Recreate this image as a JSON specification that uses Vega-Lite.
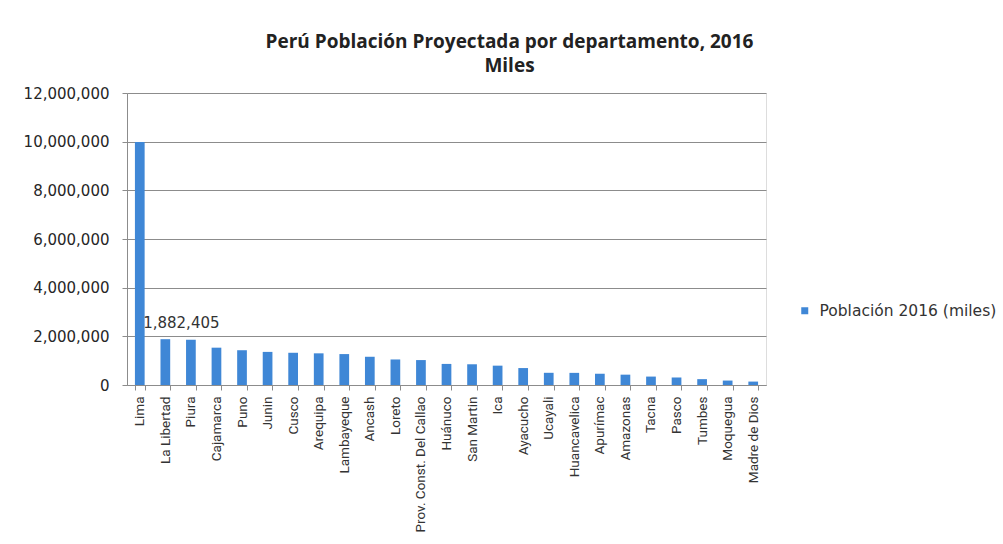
{
  "$schema": "https://vega.github.io/schema/vega-lite/v6.json",
  "autosize": {"type": "none"},
  "width": 639,
  "height": 292,
  "padding": {"left": 127, "top": 93, "right": 237, "bottom": 159},
  "background": "white",
  "title": {
    "text": ["Perú Población Proyectada por departamento, 2016", "Miles"],
    "anchor": "middle",
    "dx": 63,
    "offset": 10,
    "font": "Open Sans",
    "fontSize": 19,
    "fontWeight": "bold",
    "color": "#222222",
    "lineHeight": 24
  },
  "data": {
    "values": [
      {"dep": "Lima", "pob": 9985664, "serie": "Población 2016 (miles)"},
      {"dep": "La Libertad", "pob": 1882405, "serie": "Población 2016 (miles)"},
      {"dep": "Piura", "pob": 1858617, "serie": "Población 2016 (miles)"},
      {"dep": "Cajamarca", "pob": 1533783, "serie": "Población 2016 (miles)"},
      {"dep": "Puno", "pob": 1429098, "serie": "Población 2016 (miles)"},
      {"dep": "Junin", "pob": 1360506, "serie": "Población 2016 (miles)"},
      {"dep": "Cusco", "pob": 1324371, "serie": "Población 2016 (miles)"},
      {"dep": "Arequipa", "pob": 1301298, "serie": "Población 2016 (miles)"},
      {"dep": "Lambayeque", "pob": 1270794, "serie": "Población 2016 (miles)"},
      {"dep": "Ancash", "pob": 1160490, "serie": "Población 2016 (miles)"},
      {"dep": "Loreto", "pob": 1049364, "serie": "Población 2016 (miles)"},
      {"dep": "Prov. Const. Del Callao", "pob": 1024439, "serie": "Población 2016 (miles)"},
      {"dep": "Huánuco", "pob": 866631, "serie": "Población 2016 (miles)"},
      {"dep": "San Martin", "pob": 851883, "serie": "Población 2016 (miles)"},
      {"dep": "Ica", "pob": 794919, "serie": "Población 2016 (miles)"},
      {"dep": "Ayacucho", "pob": 696152, "serie": "Población 2016 (miles)"},
      {"dep": "Ucayali", "pob": 501269, "serie": "Población 2016 (miles)"},
      {"dep": "Huancavelica", "pob": 498556, "serie": "Población 2016 (miles)"},
      {"dep": "Apurímac", "pob": 462791, "serie": "Población 2016 (miles)"},
      {"dep": "Amazonas", "pob": 424952, "serie": "Población 2016 (miles)"},
      {"dep": "Tacna", "pob": 346013, "serie": "Población 2016 (miles)"},
      {"dep": "Pasco", "pob": 308465, "serie": "Población 2016 (miles)"},
      {"dep": "Tumbes", "pob": 240590, "serie": "Población 2016 (miles)"},
      {"dep": "Moquegua", "pob": 182333, "serie": "Población 2016 (miles)"},
      {"dep": "Madre de Dios", "pob": 140508, "serie": "Población 2016 (miles)"}
    ]
  },
  "encoding": {
    "x": {
      "field": "dep",
      "type": "nominal",
      "sort": null,
      "title": null,
      "scale": {"paddingInner": 0.62, "paddingOuter": 0.31},
      "axis": {
        "labelAngle": -90,
        "labelAlign": "right",
        "labelBaseline": "middle",
        "labelFont": "Roboto",
        "labelFontSize": 13.5,
        "labelColor": "#333333",
        "labelPadding": 6,
        "tickBand": "extent",
        "tickSize": 5,
        "tickColor": "#8c8c8c",
        "domainColor": "#8c8c8c",
        "labelLimit": 200
      }
    },
    "y": {
      "field": "pob",
      "type": "quantitative",
      "title": null,
      "scale": {"domain": [0, 12000000], "nice": false},
      "axis": {
        "values": [0, 2000000, 4000000, 6000000, 8000000, 10000000, 12000000],
        "format": ",d",
        "labelFont": "DejaVu Sans",
        "labelFontSize": 15,
        "labelColor": "#262626",
        "labelPadding": 13,
        "tickSize": 5,
        "tickColor": "#8c8c8c",
        "domainColor": "#8c8c8c",
        "gridColor": "#8c8c8c",
        "gridWidth": 1.2
      }
    }
  },
  "layer": [
    {
      "mark": {"type": "bar", "color": "#3f87d6"},
      "encoding": {
        "color": {
          "field": "serie",
          "type": "nominal",
          "scale": {"range": ["#3f87d6"]},
          "legend": {
            "title": null,
            "orient": "none",
            "legendX": 670,
            "legendY": 210,
            "symbolType": "square",
            "symbolSize": 49,
            "labelFont": "DejaVu Sans",
            "labelFontSize": 15.5,
            "labelColor": "#333333",
            "labelOffset": 7,
            "labelLimit": 300
          }
        }
      }
    },
    {
      "transform": [{"filter": "datum.dep == 'La Libertad'"}],
      "mark": {
        "type": "text",
        "font": "DejaVu Sans",
        "fontSize": 15,
        "color": "#333333",
        "dx": 16,
        "dy": -8,
        "baseline": "bottom"
      },
      "encoding": {
        "text": {"field": "pob", "type": "quantitative", "format": ",d"}
      }
    }
  ]
}
